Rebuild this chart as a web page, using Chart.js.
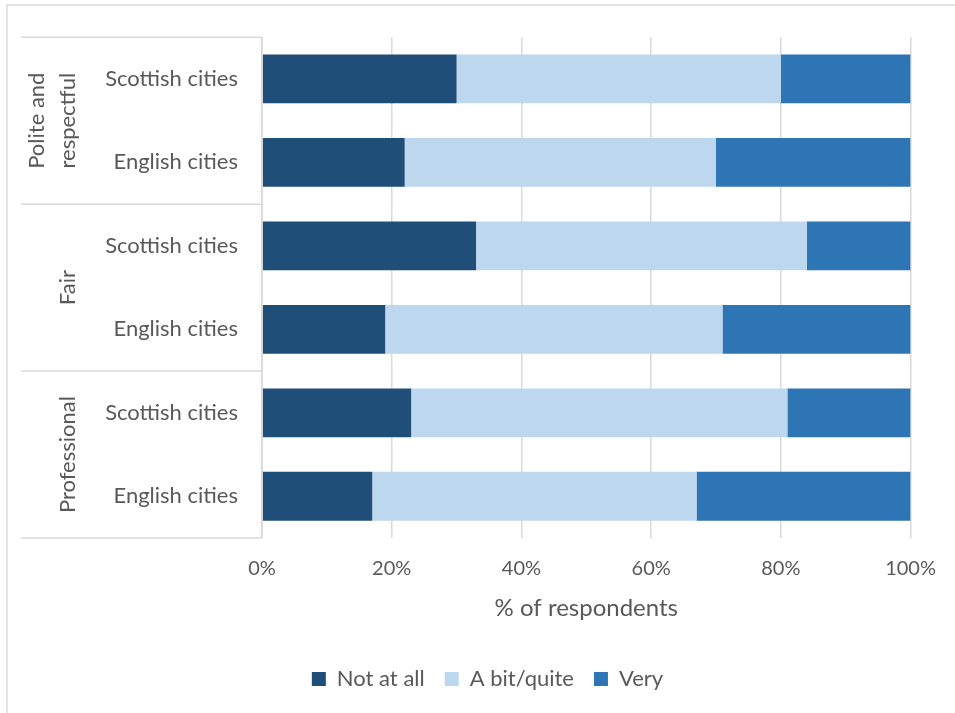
<!DOCTYPE html>
<html>
<head>
<meta charset="utf-8">
<script src="https://cdn.jsdelivr.net/npm/chart.js@4"></script>
<style>
  html, body { margin: 0; padding: 0; background: #fff; }
  #wrap { width: 955px; height: 713px; }
</style>
</head>
<body>
<div id="wrap"><canvas id="mycanvas" width="955" height="713"></canvas></div>
<script>
// rows, top to bottom
var cities = ["Scottish cities", "English cities", "Scottish cities", "English cities", "Scottish cities", "English cities"];
var groups = [["Polite and", "respectful"], ["Fair"], ["Professional"]];
var groupSize = 2;

// % of respondents per rating
var notAtAll = [30, 22, 33, 19, 23, 17];
var aBitQuite = [50, 48, 51, 52, 58, 50];
var very = [20, 30, 16, 29, 19, 33];

var xTicks = [0, 20, 40, 60, 80, 100];

var textCol = "#595959";
var lineCol = "#d9d9d9";
var fontFam = "Lato, 'Open Sans', sans-serif";

// group labels + separators down the left side, and the outer frame
var groupAxis = {
  id: "groupAxis",
  beforeDraw: function(chart) {
    var c = chart.ctx;
    c.save();
    c.strokeStyle = lineCol;
    c.lineWidth = 1.5;
    c.beginPath();
    c.moveTo(7, 713);
    c.lineTo(7, 5);
    c.lineTo(955, 5);
    c.stroke();
    c.restore();
  },
  afterDraw: function(chart) {
    var c = chart.ctx;
    var y = chart.scales.y;
    var left = 21, right = chart.chartArea.left;
    c.save();
    c.strokeStyle = lineCol;
    c.lineWidth = 1.5;
    for (var g = 0; g <= groups.length; g++) {
      var yy = g == 0 ? chart.chartArea.top :
               g == groups.length ? chart.chartArea.bottom :
               (y.getPixelForValue(g * groupSize - 1) + y.getPixelForValue(g * groupSize)) / 2;
      c.beginPath();
      c.moveTo(left, yy);
      c.lineTo(right, yy);
      c.stroke();
    }
    c.beginPath();
    c.moveTo(right, chart.chartArea.top);
    c.lineTo(right, chart.chartArea.bottom);
    c.stroke();

    c.fillStyle = textCol;
    c.font = "22px " + fontFam;
    c.textAlign = "center";
    c.textBaseline = "middle";
    for (var i = 0; i < groups.length; i++) {
      var yc = (y.getPixelForValue(i * groupSize) + y.getPixelForValue(i * groupSize + groupSize - 1)) / 2;
      var lines = groups[i];
      for (var k = 0; k < lines.length; k++) {
        var xc = 68 - 31 * (lines.length - 1 - k);
        c.save();
        c.translate(xc, yc);
        c.rotate(-Math.PI / 2);
        c.fillText(lines[k], 0, 0);
        c.restore();
      }
    }
    c.restore();
  }
};

var chartdata = {
  labels: cities,
  datasets: [
    { label: "Not at all", data: notAtAll, backgroundColor: "#1f4e79" },
    { label: "A bit/quite", data: aBitQuite, backgroundColor: "#bdd7ee" },
    { label: "Very", data: very, backgroundColor: "#2e75b6" }
  ]
};

var ctx = document.getElementById("mycanvas");
var chart = new Chart(ctx, {
  type: "bar",
  data: chartdata,
  plugins: [groupAxis],
  options: {
    indexAxis: "y",
    responsive: false,
    animation: false,
    devicePixelRatio: 1,
    layout: { padding: { top: 32, right: 42, left: 62, bottom: 13 } },
    datasets: { bar: { barPercentage: 0.585, categoryPercentage: 1, borderWidth: 0 } },
    plugins: {
      tooltip: { enabled: false },
      legend: {
        position: "bottom",
        labels: {
          color: textCol,
          font: { family: fontFam, size: 22 },
          boxWidth: 14,
          boxHeight: 14,
          padding: 20
        }
      }
    },
    scales: {
      x: {
        stacked: true,
        min: 0,
        max: 100,
        afterBuildTicks: function(axis) {
          axis.ticks = xTicks.map(function(v) { return { value: v }; });
        },
        afterFit: function(axis) { axis.height = 110; },
        ticks: {
          color: textCol,
          font: { family: fontFam, size: 20 },
          padding: 19,
          callback: function(v) { return v + "%"; }
        },
        grid: { color: lineCol, lineWidth: 1.5, drawTicks: false },
        border: { display: false },
        title: {
          display: true,
          text: "% of respondents",
          color: textCol,
          font: { family: fontFam, size: 24 },
          padding: { top: 0, bottom: 25 }
        }
      },
      y: {
        stacked: true,
        afterFit: function(axis) { axis.width = 200; },
        ticks: {
          color: textCol,
          font: { family: fontFam, size: 22 },
          padding: 24
        },
        grid: { display: false, drawTicks: false },
        border: { display: false }
      }
    }
  }
});
</script>
</body>
</html>
